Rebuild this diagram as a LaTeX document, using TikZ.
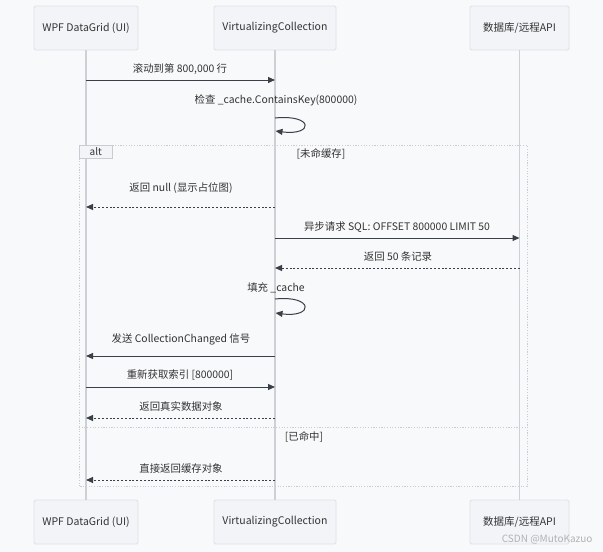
\documentclass[tikz,border=0pt]{standalone}
\usepackage{fontspec}
\setmainfont{Noto Sans CJK SC}
\usetikzlibrary{arrows.meta}
\definecolor{bgc}{HTML}{F8F9FB}
\definecolor{boxfill}{HTML}{F2F4F7}
\definecolor{boxline}{HTML}{DDE1E6}
\definecolor{lifec}{HTML}{CDD1D6}
\definecolor{txt}{HTML}{333333}
\definecolor{arr}{HTML}{3A3F48}
\definecolor{altc}{HTML}{C9CDD3}
\begin{document}
\begin{tikzpicture}[x=1pt,y=-1pt,
  actor/.style={draw=boxline,fill=boxfill,line width=0.8pt,rounded corners=1.5pt,minimum height=44pt,inner sep=0pt,font=\fontsize{10.5}{12}\selectfont,text=txt},
  life/.style={draw=lifec,line width=1.4pt},
  msg/.style={draw=arr,line width=1pt,-{Triangle[length=7pt,width=6pt]}},
  ret/.style={msg,dash pattern=on 2pt off 1.8pt},
  lbl/.style={font=\fontsize{10.4}{12}\selectfont,text=txt,inner sep=1pt},
  altline/.style={draw=altc,line width=0.9pt,dash pattern=on 1.2pt off 1.5pt},
]
\useasboundingbox (0,0) rectangle (603,552);
\fill[bgc] (0,0) rectangle (603,552);

% actors
\node[actor,minimum width=104pt] (a1) at (86,28) {WPF DataGrid (UI)};
\node[actor,minimum width=122pt] (a2) at (275,28) {VirtualizingCollection};
\node[actor,minimum width=99pt] (a3) at (519.5,28) {数据库/远程API};
\node[actor,minimum width=104pt] (b1) at (86,522) {WPF DataGrid (UI)};
\node[actor,minimum width=122pt] (b2) at (275,522) {VirtualizingCollection};
\node[actor,minimum width=99pt] (b3) at (519.5,522) {数据库/远程API};

% lifelines
\draw[life] (a1.south) -- (b1.north);
\draw[life] (a2.south) -- (b2.north);
\draw[life] (a3.south) -- (b3.north);

% alt frame
\coordinate (fTL) at (79,145);
\coordinate (fBR) at (527,486.5);
\draw[altline] (fTL) rectangle (fBR);
\draw[altline] (79,427.5) -- (527,427.5);
\node[fill=boxfill,draw=altc,line width=0.6pt,anchor=north west,minimum width=33pt,minimum height=12.5pt,inner sep=0pt,font=\fontsize{10}{12}\selectfont,text=txt] (alttab) at (79,145) {alt};
\node[lbl] (c1) at (321,154) {[未命缓存]};
\node[lbl] (c2) at (304,437) {[已命中]};

% coordinates on lifelines
\foreach \n/\y in {80,207,238,268,356,387,418,480}{
  \coordinate (u\n) at (86,\y);
  \coordinate (v\n) at (275,\y);
  \coordinate (w\n) at (519.5,\y);
}

% 1
\draw[msg] (u80) -- (v80);
\node[lbl] (t1) at (180,69) {滚动到第 800,000 行};
% 2 self
\node[lbl] (t2) at (276,100) {检查 \_cache.ContainsKey(800000)};
\coordinate (s1a) at (275,118);
\coordinate (s1b) at (275.5,131);
\draw[msg] (s1a) .. controls (314,114) and (314,136) .. (s1b);
% 3
\draw[ret] (v207) -- (u207);
\node[lbl] (t3) at (181,188) {返回 null (显示占位图)};
% 4
\draw[msg] (v238) -- (w238);
\node[lbl] (t4) at (397,227) {异步请求 SQL: OFFSET 800000 LIMIT 50};
% 5
\draw[ret] (w268) -- (v268);
\node[lbl] (t5) at (398,257) {返回 50 条记录};
% 6 self
\node[lbl] (t6) at (276,288) {填充 \_cache};
\coordinate (s2a) at (275,299);
\coordinate (s2b) at (275.5,313);
\draw[msg] (s2a) .. controls (314,295) and (314,318) .. (s2b);
% 7
\draw[msg] (v356) -- (u356);
\node[lbl] (t7) at (181,339) {发送 CollectionChanged 信号};
% 8
\draw[msg] (u387) -- (v387);
\node[lbl] (t8) at (180,375) {重新获取索引 [800000]};
% 9
\draw[ret] (v418) -- (u418);
\node[lbl] (t9) at (181,407) {返回真实数据对象};
% 10
\draw[ret] (v480) -- (u480);
\node[lbl] (t10) at (181,469) {直接返回缓存对象};

% watermark
\node[font=\fontsize{10}{12}\selectfont,text=black!30,anchor=east] (wm) at (596,540) {CSDN @MutoKazuo};
\end{tikzpicture}
\end{document}
